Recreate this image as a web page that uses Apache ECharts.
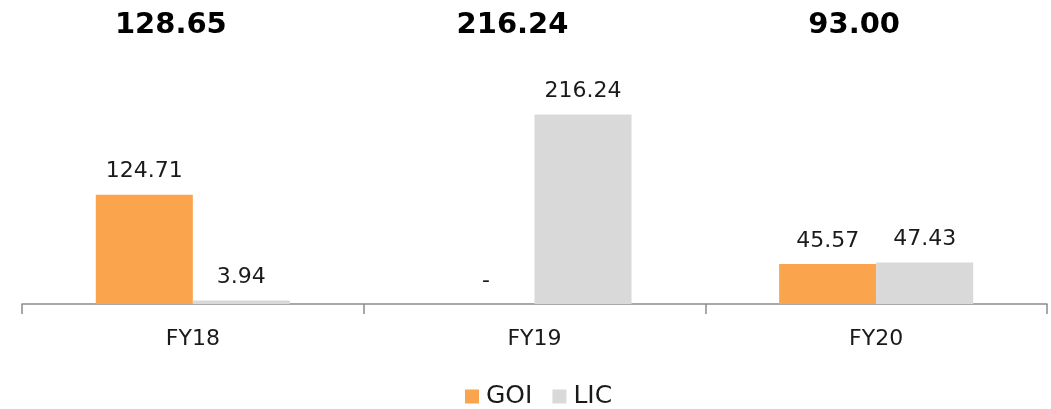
<!DOCTYPE html>
<html>
<head>
<meta charset="utf-8">
<script src="https://cdn.jsdelivr.net/npm/echarts@6/dist/echarts.min.js"></script>
<style>
  html, body { margin: 0; padding: 0; background: #fff; }
  #chart { width: 1051px; height: 409px; }
</style>
</head>
<body>
<div id="chart"></div>
<script>
// data
const years = ['FY18', 'FY19', 'FY20'];
const goi = [124.71, 0, 45.57];
const lic = [3.94, 216.24, 47.43];
const totals = [128.65, 216.24, 93.00];

const font = '"DejaVu Sans", sans-serif';

const chart = echarts.init(document.getElementById('chart'));

const valueLabel = {
  show: true,
  position: 'top',
  distance: 12,
  fontFamily: font,
  fontSize: 22,
  color: '#1a1a1a'
};

chart.setOption({
  animation: false,
  grid: { left: 22, right: 4, top: 85, bottom: 105, containLabel: false },
  legend: {
    top: 379,
    left: 460,
    itemWidth: 14,
    itemHeight: 14,
    itemGap: 20,
    icon: 'rect',
    textStyle: { fontFamily: font, fontSize: 25, color: '#1a1a1a', padding: [0, 0, 0, 2] },
    data: ['GOI', 'LIC']
  },
  xAxis: {
    type: 'category',
    data: years,
    axisLine: { lineStyle: { color: '#8c8c8c', width: 1.5 } },
    axisTick: { show: true, length: 10, lineStyle: { color: '#8c8c8c', width: 1.5 } },
    axisLabel: { fontFamily: font, fontSize: 22, color: '#1a1a1a', margin: 24 }
  },
  yAxis: {
    type: 'value',
    min: 0,
    max: 250,
    show: false,
    splitLine: { show: false }
  },
  series: [
    {
      name: 'GOI',
      type: 'bar',
      data: goi,
      barWidth: '28.4%',
      barGap: '0%',
      itemStyle: { color: '#FBA44E' },
      label: Object.assign({}, valueLabel, {
        formatter: (p) => p.value === 0 ? '-' : p.value.toFixed(2)
      })
    },
    {
      name: 'LIC',
      type: 'bar',
      data: lic,
      barWidth: '28.4%',
      itemStyle: { color: '#D9D9D9' },
      label: Object.assign({}, valueLabel, {
        formatter: (p) => p.value.toFixed(2)
      })
    },
    {
      // totals drawn above each year
      name: 'Total',
      type: 'custom',
      data: totals.map((v, i) => [i, v]),
      renderItem: (params, api) => {
        const pt = api.coord([api.value(0), 0]);
        return {
          type: 'text',
          x: pt[0] - 22,
          y: 25,
          style: {
            text: api.value(1).toFixed(2),
            fontFamily: font,
            fontWeight: 'bold',
            fontSize: 29,
            fill: '#000',
            align: 'center',
            verticalAlign: 'middle'
          }
        };
      }
    }
  ]
});
</script>
</body>
</html>
